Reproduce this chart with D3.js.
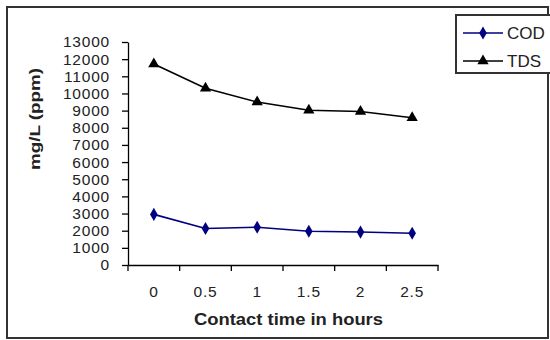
<!DOCTYPE html>
<html><head><meta charset="utf-8">
<script src="https://cdn.jsdelivr.net/npm/d3@7"></script>
<style>body{margin:0;background:#fff}svg{display:block}</style>
</head><body>
<svg id="c" width="550" height="340"></svg>
<script>
const categories = ["0","0.5","1","1.5","2","2.5"];
const codValues = [2950, 2130, 2200, 1970, 1920, 1850];
const tdsValues = [11720, 10300, 9500, 9020, 8950, 8580];
const yTicks = d3.range(0, 13001, 1000);
const seriesNames = ["COD","TDS"];
const seriesColors = ["#000080","#000000"];

const svg = d3.select("#c");
const font = "Liberation Sans, Arial, sans-serif";

// outer border
svg.append("rect").attr("x",7).attr("y",7).attr("width",541).attr("height",331)
  .attr("fill","#fff").attr("stroke","#333").attr("stroke-width",2);

const x = d3.scaleBand().domain(categories).range([128,438]);
const y = d3.scaleLinear().domain([0,13000]).range([265,42]);

// y axis
const ya = svg.append("g").attr("transform","translate(128,0)")
  .call(d3.axisLeft(y).tickValues(yTicks).tickFormat(d3.format("d")).tickSize(6).tickPadding(12).tickSizeOuter(0));
ya.select(".domain").attr("stroke","#000").attr("stroke-width",1.3);
ya.selectAll(".tick line").attr("stroke","#000").attr("stroke-width",1.3);
ya.selectAll(".tick text").attr("font-family",font).attr("font-size",15.5)
  .attr("letter-spacing","0.8px").attr("fill","#222");

// x axis
const xa = svg.append("g").attr("transform","translate(0,265)")
  .call(d3.axisBottom(x).tickSize(0).tickPadding(21));
xa.select(".domain").attr("stroke","#000").attr("stroke-width",1.3);
xa.selectAll(".tick text").attr("font-family",font).attr("font-size",15.5)
  .attr("letter-spacing","0.8px").attr("fill","#222");
// boundary ticks
const bounds = categories.map(c => x(c)).concat([x.range()[1]]);
xa.selectAll("line.bt").data(bounds).enter().append("line").attr("class","bt")
  .attr("x1",d=>d).attr("x2",d=>d).attr("y1",0).attr("y2",6)
  .attr("stroke","#000").attr("stroke-width",1.3);

// axis titles
svg.append("text").attr("x",194).attr("y",325).attr("font-family",font)
  .attr("font-weight","bold").attr("font-size",16).attr("fill","#222")
  .attr("textLength",189).attr("lengthAdjust","spacingAndGlyphs")
  .text("Contact time in hours");
svg.append("text").attr("transform","translate(40,170) rotate(-90)")
  .attr("font-family",font).attr("font-weight","bold").attr("font-size",14).attr("fill","#222")
  .attr("textLength",102).attr("lengthAdjust","spacingAndGlyphs")
  .text("mg/L (ppm)");

const cx = c => x(c) + x.bandwidth()/2;
const line = d3.line().x((d,i)=>cx(categories[i])).y(d=>y(d));
const diamond = d3.symbol().type(d3.symbolDiamond).size(50);
const triangle = d3.symbol().type(d3.symbolTriangle).size(55);

[[codValues,0,diamond],[tdsValues,1,triangle]].forEach(([vals,k,sym])=>{
  svg.append("path").datum(vals).attr("d",line).attr("fill","none")
    .attr("stroke",seriesColors[k]).attr("stroke-width",1.6);
  svg.selectAll("path.m"+k).data(vals).enter().append("path").attr("class","m"+k)
    .attr("d",sym).attr("transform",(d,i)=>`translate(${cx(categories[i])},${y(d)})`)
    .attr("fill",seriesColors[k]);
});

// legend
const lg = svg.append("g");
lg.append("rect").attr("x",456).attr("y",15).attr("width",100).attr("height",58)
  .attr("fill","#fff").attr("stroke","#333").attr("stroke-width",2);
const ly = [33,61];
const syms = [diamond, triangle];
seriesNames.forEach((n,k)=>{
  lg.append("line").attr("x1",463).attr("x2",503).attr("y1",ly[k]).attr("y2",ly[k])
    .attr("stroke",seriesColors[k]).attr("stroke-width",1.6);
  lg.append("path").attr("d",syms[k]).attr("transform",`translate(483,${ly[k]})`)
    .attr("fill",seriesColors[k]);
  lg.append("text").attr("x",507).attr("y",ly[k]+6).attr("font-family",font)
    .attr("font-size",17).attr("fill","#222").text(n);
});
</script>
</body></html>
